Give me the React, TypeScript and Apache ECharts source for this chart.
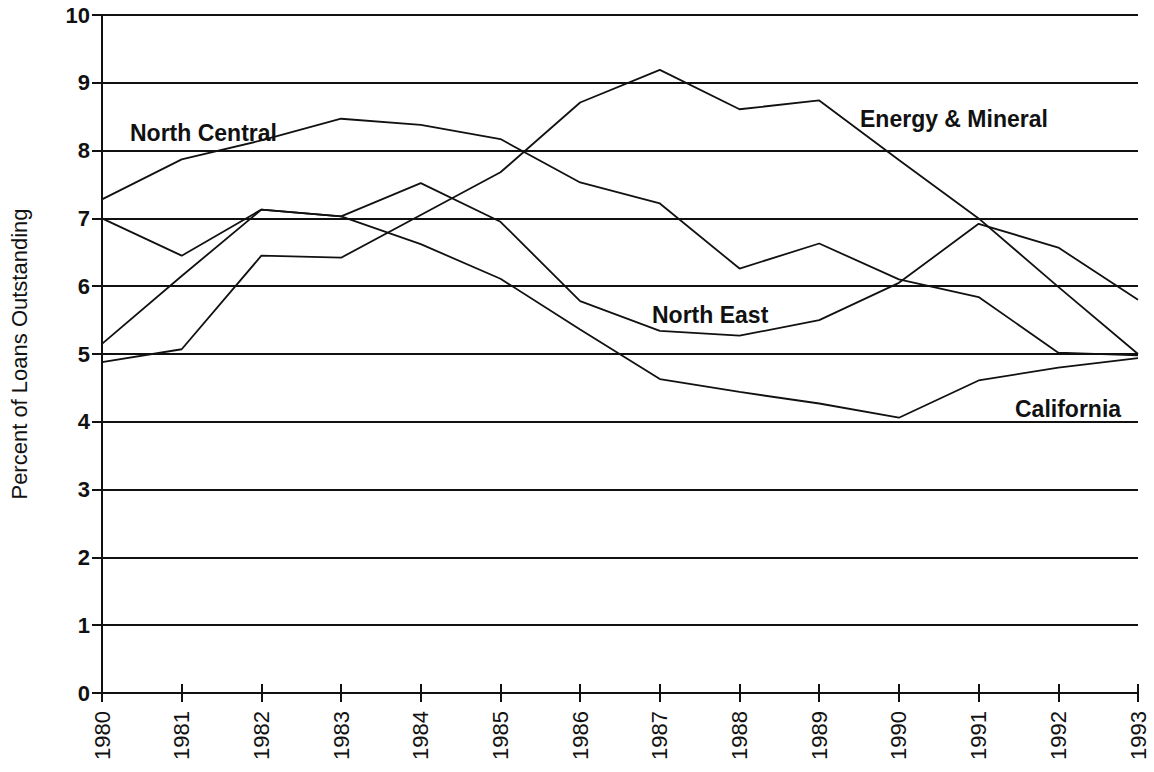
import React, { useEffect, useRef } from "react";
import * as echarts from "echarts";

const years = ["1980","1981","1982","1983","1984","1985","1986","1987","1988","1989","1990","1991","1992","1993"];
const northCentral = [7.28, 7.87, 8.15, 8.47, 8.38, 8.17, 7.53, 7.22, 6.26, 6.63, 6.1, 5.84, 5.02, 4.98];
const energyMineral = [4.88, 5.07, 6.45, 6.42, 7.05, 7.68, 8.71, 9.19, 8.61, 8.74, 7.86, 7.0, 5.99, 5.0];
const northEast = [7.0, 6.45, 7.13, 7.03, 7.52, 6.95, 5.78, 5.34, 5.27, 5.5, 6.05, 6.92, 6.57, 5.8];
const california = [5.15, 6.15, 7.13, 7.03, 6.62, 6.11, 5.36, 4.63, 4.44, 4.27, 4.06, 4.61, 4.8, 4.94];
const seriesNames = ["North Central", "Energy & Mineral", "North East", "California"];
const yTicks = [0, 1, 2, 3, 4, 5, 6, 7, 8, 9, 10];

export default function App() {
  const ref = useRef<HTMLDivElement>(null);
  useEffect(() => {
    document.body.style.margin = "0";
    const chart = echarts.init(ref.current!, null, { renderer: "svg" });
    const lineStyle = { color: "#111", width: 1.8 };
    const mk = (name: string, data: number[]) => ({
      name,
      type: "line",
      data,
      symbol: "none",
      lineStyle,
      itemStyle: { color: "#111" },
      z: 5,
    });
    const labelFont = {
      fontFamily: "Liberation Sans, Arial, sans-serif",
      fontSize: 23,
      fontWeight: "bold" as const,
      fill: "#111",
    };
    chart.setOption({
      animation: false,
      backgroundColor: "#fff",
      grid: { left: 102, right: 16, top: 15, bottom: 79 },
      xAxis: [
        {
          type: "category",
          data: years,
          boundaryGap: false,
          axisLine: { lineStyle: { color: "#111", width: 2 } },
          axisTick: { show: true, length: 9, lineStyle: { color: "#111", width: 2 } },
          axisLabel: {
            rotate: 90,
            margin: 18,
            color: "#111",
            fontSize: 22,
            fontFamily: "Liberation Sans Narrow, Liberation Sans, Arial, sans-serif",
          },
          splitLine: { show: false },
        },
        {
          type: "category",
          data: years,
          boundaryGap: false,
          position: "bottom",
          axisLine: { show: false },
          axisTick: { show: true, inside: true, length: 9, lineStyle: { color: "#111", width: 2 } },
          axisLabel: { show: false },
          splitLine: { show: false },
        },
      ],
      yAxis: {
        type: "value",
        min: yTicks[0],
        max: yTicks[yTicks.length - 1],
        interval: 1,
        axisLine: { show: true, lineStyle: { color: "#111", width: 2 } },
        axisTick: { show: true, length: 10, lineStyle: { color: "#111", width: 2 } },
        axisLabel: {
          margin: 12,
          color: "#111",
          fontSize: 22,
          fontWeight: "bold",
          fontFamily: "Liberation Sans, Arial, sans-serif",
        },
        splitLine: { show: true, lineStyle: { color: "#111", width: 2.2 } },
        name: "Percent of Loans Outstanding",
        nameLocation: "middle",
        nameGap: 72,
        nameTextStyle: {
          color: "#111",
          fontSize: 22,
          fontFamily: "Liberation Sans Narrow, Liberation Sans, Arial, sans-serif",
        },
      },
      series: [
        mk(seriesNames[0], northCentral),
        mk(seriesNames[1], energyMineral),
        mk(seriesNames[2], northEast),
        mk(seriesNames[3], california),
      ],
      graphic: [
        { type: "text", left: 130, top: 121, style: { ...labelFont, text: seriesNames[0] } },
        { type: "text", left: 860, top: 107, style: { ...labelFont, text: seriesNames[1] } },
        { type: "text", left: 652, top: 303, style: { ...labelFont, text: seriesNames[2] } },
        { type: "text", left: 1015, top: 397, style: { ...labelFont, text: seriesNames[3] } },
      ],
    });
    return () => chart.dispose();
  }, []);
  return <div ref={ref} style={{ width: 1154, height: 772 }} />;
}
